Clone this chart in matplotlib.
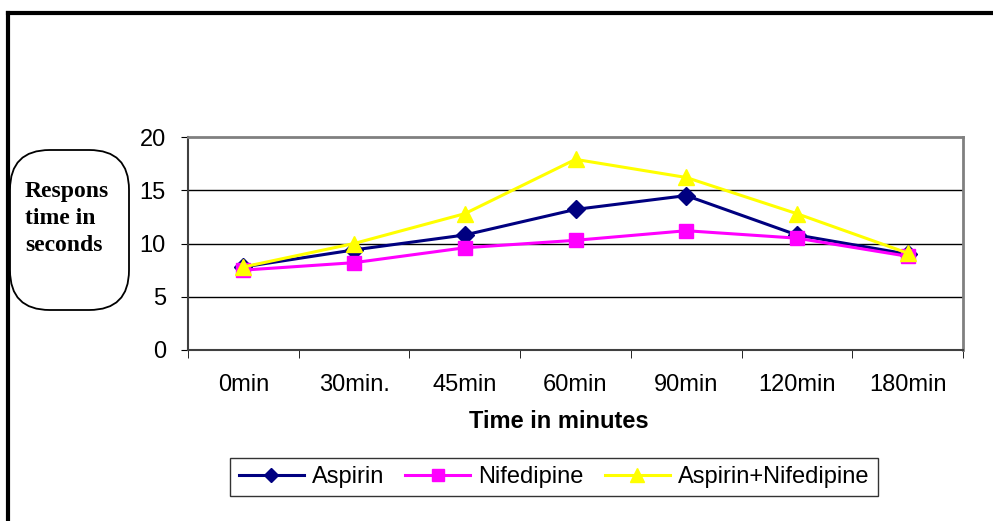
import matplotlib.pyplot as plt
import matplotlib.lines as mlines
from matplotlib.patches import FancyBboxPatch
import numpy as np

categories = ['0min', '30min.', '45min', '60min', '90min', '120min', '180min']
aspirin = [7.8, 9.4, 10.8, 13.2, 14.5, 10.8, 9.0]
nifedipine = [7.5, 8.2, 9.6, 10.3, 11.2, 10.5, 8.8]
combined = [7.8, 10.0, 12.8, 17.9, 16.2, 12.8, 9.1]

W, H = 993, 521
fig = plt.figure(figsize=(W / 100, H / 100), dpi=100)
plt.rcParams['font.family'] = ['Liberation Sans', 'DejaVu Sans']
fs = 17

# outer frame: thick left and top lines only
fig.add_artist(mlines.Line2D([7.5 / W, 7.5 / W], [0, 1 - 12.5 / H], color='black', lw=3,
                             transform=fig.transFigure, solid_capstyle='projecting'))
fig.add_artist(mlines.Line2D([7.5 / W, 1], [1 - 12.5 / H, 1 - 12.5 / H], color='black', lw=3,
                             transform=fig.transFigure, solid_capstyle='projecting'))

left, right, top, bottom = 188, 963, 137, 350
ax = fig.add_axes([left / W, 1 - bottom / H, (right - left) / W, (bottom - top) / H])

x = np.arange(len(categories))
ax.plot(x, aspirin, color='#000080', lw=2.2, marker='D', ms=9, label='Aspirin', zorder=3)
ax.plot(x, nifedipine, color='#FF00FF', lw=2.2, marker='s', ms=10, label='Nifedipine', zorder=3)
ax.plot(x, combined, color='#FFFF00', lw=2.2, marker='^', ms=12, label='Aspirin+Nifedipine', zorder=3)

ax.set_xlim(-0.5, len(categories) - 0.5)
ax.set_ylim(0, 20)
ax.set_yticks([0, 5, 10, 15, 20])
for yv in [5, 10, 15]:
    ax.axhline(yv, color='black', lw=1, zorder=1)

ax.set_xticks(x)
ax.set_xticklabels(categories, fontsize=fs)
ax.set_xticks(np.arange(-0.5, len(categories)), minor=True)
ax.tick_params(axis='x', which='major', length=0, pad=17)
ax.tick_params(axis='x', which='minor', length=6, direction='out', color='black')
ax.tick_params(axis='y', length=5, direction='out', labelsize=fs, pad=11)

for s in ['top', 'right']:
    ax.spines[s].set_color('#808080')
    ax.spines[s].set_linewidth(2)
ax.spines['left'].set_color('#404040')
ax.spines['bottom'].set_color('#404040')
ax.spines['left'].set_linewidth(1.5)
ax.spines['bottom'].set_linewidth(1.5)

ax.set_xlabel('Time in minutes', fontsize=fs, fontweight='bold', labelpad=10)
ax.xaxis.set_label_coords(0.479, -0.28)

# y label in rounded box
box = FancyBboxPatch((10 / W, 1 - 310 / H), 119 / W, 160 / H,
                     boxstyle='round,pad=0,rounding_size=0.04', transform=fig.transFigure,
                     facecolor='white', edgecolor='black', lw=1.3, mutation_aspect=W / H)
fig.add_artist(box)
fig.text(25 / W, 1 - 181 / H, 'Respons\ntime in\nseconds', fontsize=fs, fontweight='bold',
         family=['Liberation Serif', 'DejaVu Serif'], va='top', ha='left', linespacing=1.37)

leg = fig.legend(loc='center', bbox_to_anchor=(554 / W, 1 - 477 / H), ncol=3, fontsize=fs,
                 frameon=True, fancybox=False, edgecolor='black', handlelength=2.75,
                 columnspacing=0.9, handletextpad=0.34, borderpad=0.35, borderaxespad=0,
                 markerscale=0.8)
leg.get_frame().set_linewidth(1)

fig.savefig('out.png', dpi=100)
